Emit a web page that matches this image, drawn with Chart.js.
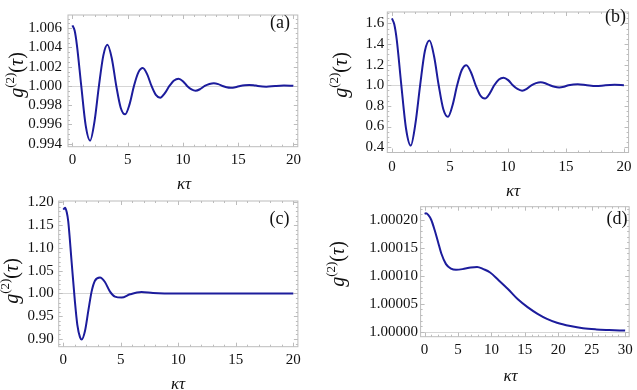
<!DOCTYPE html>
<html>
<head>
<meta charset="utf-8">
<script src="https://cdn.jsdelivr.net/npm/chart.js@4.4.1/dist/chart.umd.min.js"></script>
<style>
  html, body { margin: 0; padding: 0; background: #fff; overflow: hidden; }
  #wrap { position: relative; width: 637px; height: 390px; }
  #wrap canvas { position: absolute; left: 0; top: 0; }
</style>
</head>
<body>
<div id="wrap">
  <canvas id="chartA" width="637" height="390"></canvas>
  <canvas id="chartB" width="637" height="390"></canvas>
  <canvas id="chartC" width="637" height="390"></canvas>
  <canvas id="chartD" width="637" height="390"></canvas>
</div>
<script>
// values: kappa*tau and g2(tau) for each panel
const tauA = [0, 0.2, 0.4, 0.8, 1.2, 1.6, 2.0, 2.4, 2.8, 3.17, 3.57, 3.97, 4.37, 4.77, 5.17, 5.57, 5.97, 6.37, 6.77, 7.16, 7.55, 7.95, 8.35, 8.78, 9.2, 9.6, 10.0, 10.38, 10.78, 11.15, 11.55, 11.98, 12.4, 12.8, 13.2, 13.58, 13.95, 14.35, 14.75, 15.18, 15.6, 16.0, 16.4, 16.78, 17.55, 18.35, 19.15, 20];
const g2A  = [1.0063, 1.00575, 1.0043, 1.0000, 0.9959, 0.99432, 0.99632, 1.0000, 1.00318, 1.00428, 1.00283, 1.0000, 0.99774, 0.99705, 0.99809, 1.0000, 1.00141, 1.00186, 1.0012, 1.0000, 0.99908, 0.99878, 0.99922, 1.0000, 1.00057, 1.00075, 1.0005, 1.0000, 0.99964, 0.9995, 0.99966, 1.0000, 1.0002, 1.00028, 1.00019, 1.0000, 0.99986, 0.99981, 0.99987, 1.0000, 1.00008, 1.00011, 1.00008, 1.0000, 0.99993, 1.0000, 1.00004, 1.00001];

const tauB = [0, 0.2, 0.41, 0.81, 1.22, 1.62, 2.02, 2.43, 2.84, 3.24, 3.64, 4.03, 4.43, 4.83, 5.23, 5.62, 6.02, 6.42, 6.82, 7.22, 7.62, 8.02, 8.42, 8.82, 9.22, 9.62, 10.02, 10.42, 10.82, 11.22, 11.62, 12.02, 12.42, 12.82, 13.22, 13.62, 14.02, 14.42, 14.82, 15.22, 16.02, 16.81, 17.6, 18.4, 19.2, 20];
const g2B  = [1.648, 1.591, 1.445, 1.0, 0.576, 0.415, 0.625, 1.0, 1.332, 1.434, 1.276, 1.0, 0.767, 0.694, 0.809, 1.0, 1.148, 1.195, 1.124, 1.0, 0.901, 0.871, 0.919, 1.0, 1.057, 1.074, 1.05, 1.0, 0.964, 0.948, 0.965, 1.0, 1.021, 1.029, 1.02, 1.0, 0.985, 0.979, 0.986, 1.0, 1.011, 1.0, 0.992, 1.0, 1.004, 1.001];

const tauC = [0, 0.15, 0.3, 0.43, 0.72, 1.01, 1.22, 1.45, 1.6, 1.88, 2.17, 2.46, 2.75, 3.19, 3.62, 4.06, 4.49, 5.07, 5.8, 6.8, 7.8, 8.8, 10, 20];
const g2C  = [1.184, 1.188, 1.178, 1.158, 1.070, 0.982, 0.931, 0.904, 0.899, 0.917, 0.961, 1.004, 1.028, 1.035, 1.025, 1.004, 0.993, 0.991, 0.998, 1.003, 1.0007, 1.0, 1.0, 1.0];

const tauD = [0, 0.2, 0.54, 1.0, 1.5, 2.0, 2.5, 3.2, 3.95, 4.7, 5.66, 6.9, 7.85, 8.8, 9.8, 11.0, 12.5, 13.95, 15.4, 16.9, 18.3, 19.8, 21.8, 23.7, 25.7, 27.6, 30];
const g2D  = [1.000211, 1.000212, 1.000209, 1.000200, 1.000182, 1.000161, 1.000140, 1.000121, 1.000113, 1.000111, 1.000112, 1.000115, 1.000116, 1.000112, 1.000106, 1.000093, 1.000076, 1.000058, 1.000044, 1.000032, 1.000023, 1.000016, 1.000010, 1.000006, 1.000004, 1.000003, 1.000002];

// tick labels
const xTicks20 = [0, 5, 10, 15, 20];
const xTicks30 = [0, 5, 10, 15, 20, 25, 30];
const yTicksA = [0.994, 0.996, 0.998, 1.000, 1.002, 1.004, 1.006];
const yTicksB = [0.4, 0.6, 0.8, 1.0, 1.2, 1.4, 1.6];
const yTicksC = [0.90, 0.95, 1.00, 1.05, 1.10, 1.15, 1.20];
const yTicksD = [1.00000, 1.00005, 1.00010, 1.00015, 1.00020];
const panelTags = ['(a)', '(b)', '(c)', '(d)'];

const SERIF = '"Liberation Serif", "Times New Roman", serif';
const LINE_COLOR = '#1c1c9c';
const FRAME_COLOR = '#bcbcbc';

// draws g^(2)(tau) rotated, with a raised (2)
function drawYTitle(ctx, cx, cy) {
    const parts = [
        { t: 'g', font: 'italic 20px ' + SERIF, dy: 0 },
        { t: '(2)', font: '13px ' + SERIF, dy: -9 },
        { t: '(', font: '20px ' + SERIF, dy: 0 },
        { t: 'τ', font: 'italic 20px ' + SERIF, dy: 0 },
        { t: ')', font: '20px ' + SERIF, dy: 0 }
    ];
    let total = 0;
    parts.forEach(p => { ctx.font = p.font; p.w = ctx.measureText(p.t).width; total += p.w; });
    ctx.save();
    ctx.translate(cx, cy);
    ctx.rotate(-Math.PI / 2);
    ctx.fillStyle = '#111';
    ctx.textBaseline = 'alphabetic';
    ctx.textAlign = 'left';
    let x = -total / 2;
    parts.forEach(p => {
        ctx.font = p.font;
        ctx.fillText(p.t, x, 5 + p.dy);
        x += p.w;
    });
    ctx.restore();
}

// Mathematica-style frame: inward ticks, axis line at 1, labels
const framePlugin = {
    id: 'mmaFrame',
    beforeDatasetsDraw(chart, args, opts) {
        const { ctx, chartArea: a, scales: { y } } = chart;
        const py = Math.round(y.getPixelForValue(1)) + 0.5;
        ctx.save();
        ctx.strokeStyle = '#d6d6d6';
        ctx.lineWidth = 1;
        ctx.beginPath();
        ctx.moveTo(a.left, py);
        ctx.lineTo(a.right, py);
        ctx.stroke();
        ctx.restore();
    },
    afterDraw(chart, args, opts) {
        const { ctx, chartArea: a, scales: { x, y } } = chart;
        ctx.save();
        ctx.strokeStyle = FRAME_COLOR;
        ctx.lineWidth = 1;
        ctx.strokeRect(a.left, a.top, a.right - a.left, a.bottom - a.top);

        ctx.beginPath();
        // x ticks, bottom and top
        const xFirst = Math.ceil(x.min / opts.xMinor) * opts.xMinor;
        for (let v = xFirst; v <= x.max + 1e-9; v += opts.xMinor) {
            const major = Math.abs(v / opts.xMajor - Math.round(v / opts.xMajor)) < 1e-6;
            const len = major ? 4 : 2;
            const px = Math.round(x.getPixelForValue(v)) + 0.5;
            ctx.moveTo(px, a.bottom); ctx.lineTo(px, a.bottom - len);
            ctx.moveTo(px, a.top); ctx.lineTo(px, a.top + len);
        }
        // y ticks, left and right
        const yFirst = Math.ceil((y.min - opts.yBase) / opts.yMinor);
        const yLast = Math.floor((y.max - opts.yBase) / opts.yMinor);
        for (let k = yFirst; k <= yLast; k++) {
            const major = ((k % opts.yEvery) + opts.yEvery) % opts.yEvery === 0;
            const len = major ? 4 : 2;
            const py = Math.round(y.getPixelForValue(opts.yBase + k * opts.yMinor)) + 0.5;
            ctx.moveTo(a.left, py); ctx.lineTo(a.left + len, py);
            ctx.moveTo(a.right, py); ctx.lineTo(a.right - len, py);
        }
        ctx.stroke();

        // panel tag
        ctx.fillStyle = '#111';
        ctx.font = '18px ' + SERIF;
        ctx.textAlign = 'center';
        ctx.textBaseline = 'middle';
        ctx.fillText(opts.tag, opts.tagPos[0], opts.tagPos[1]);

        // x title
        ctx.font = 'italic 17px ' + SERIF;
        ctx.fillText('κτ', opts.xTitle[0], opts.xTitle[1]);
        ctx.restore();

        drawYTitle(ctx, opts.yTitle[0], opts.yTitle[1]);
    }
};

function makePanel(cfg) {
    const W = 637, H = 390;
    const area = cfg.area;
    // wide enough that Chart.js does not clip the long tick labels
    const yAxisW = Math.min(62, area.l), xAxisH = 40;
    return new Chart(document.getElementById(cfg.id), {
        type: 'line',
        data: {
            datasets: [{
                data: cfg.tau.map((t, i) => ({ x: t, y: cfg.g2[i] })),
                borderColor: LINE_COLOR,
                borderWidth: 2,
                pointRadius: 0,
                fill: false,
                cubicInterpolationMode: 'monotone'
            }]
        },
        options: {
            responsive: false,
            animation: false,
            events: [],
            layout: {
                padding: {
                    left: area.l - yAxisW,
                    right: W - area.r,
                    top: area.t,
                    bottom: H - area.b - xAxisH
                }
            },
            plugins: {
                legend: { display: false },
                tooltip: { enabled: false },
                mmaFrame: {
                    tag: cfg.tag, tagPos: cfg.tagPos,
                    xTitle: cfg.xTitle, yTitle: cfg.yTitle,
                    xMajor: 5, xMinor: 1,
                    yBase: cfg.yTicks[0], yMinor: cfg.yMinor, yEvery: cfg.yEvery
                }
            },
            scales: {
                x: {
                    type: 'linear',
                    min: cfg.xMin,
                    max: cfg.xMax,
                    grid: { display: false, drawTicks: false },
                    border: { display: false },
                    afterFit: s => { s.height = xAxisH; },
                    afterBuildTicks: s => { s.ticks = cfg.xTicks.map(v => ({ value: v })); },
                    ticks: {
                        autoSkip: false,
                        maxRotation: 0,
                        padding: cfg.xGap,
                        color: '#111',
                        font: { family: SERIF, size: 15 },
                        callback: v => String(v)
                    }
                },
                y: {
                    type: 'linear',
                    min: cfg.yMin,
                    max: cfg.yMax,
                    grid: { display: false, drawTicks: false },
                    border: { display: false },
                    afterFit: s => { s.width = yAxisW; },
                    afterBuildTicks: s => { s.ticks = cfg.yTicks.map(v => ({ value: v })); },
                    ticks: {
                        autoSkip: false,
                        padding: cfg.yGap,
                        color: '#111',
                        font: { family: SERIF, size: 15 },
                        callback: v => v.toFixed(cfg.dec)
                    }
                }
            }
        },
        plugins: [framePlugin]
    });
}

const panels = [
    { id: 'chartA', tau: tauA, g2: g2A, xTicks: xTicks20, yTicks: yTicksA, dec: 3, yMinor: 0.0005, yEvery: 4,
      xMin: -0.4, xMax: 20.4, yMin: 0.99369, yMax: 1.00737,
      area: { l: 68, r: 297.8, t: 1.5, b: 146.7 }, xGap: 4.3, yGap: 6,
      tag: panelTags[0], tagPos: [280, 23], xTitle: [184, 185], yTitle: [17.5, 75] },
    { id: 'chartB', tau: tauB, g2: g2B, xTicks: xTicks20, yTicks: yTicksB, dec: 1, yMinor: 0.05, yEvery: 4,
      xMin: -0.4, xMax: 20.4, yMin: 0.348, yMax: 1.7107,
      area: { l: 387.3, r: 633.7, t: 1, b: 152.5 }, xGap: 5.5, yGap: 3,
      tag: panelTags[1], tagPos: [615.5, 17.5], xTitle: [513, 192], yTitle: [342, 75] },
    { id: 'chartC', tau: tauC, g2: g2C, xTicks: xTicks20, yTicks: yTicksC, dec: 2, yMinor: 0.01, yEvery: 5,
      xMin: -0.4, xMax: 20.4, yMin: 0.8831, yMax: 1.2028,
      area: { l: 58.7, r: 297.9, t: 201, b: 346.7 }, xGap: 4.3, yGap: 5,
      tag: panelTags[2], tagPos: [279.5, 219], xTitle: [178, 385], yTitle: [13, 281] },
    { id: 'chartD', tau: tauD, g2: g2D, xTicks: xTicks30, yTicks: yTicksD, dec: 5, yMinor: 0.00001, yEvery: 5,
      xMin: -0.6, xMax: 30.6, yMin: 0.999991, yMax: 1.0002238,
      area: { l: 420.6, r: 633.8, t: 206.7, b: 336.7 }, xGap: 4.3, yGap: 2.5,
      tag: panelTags[3], tagPos: [617, 219.5], xTitle: [510.5, 377], yTitle: [339, 264] }
];

panels.forEach(makePanel);
</script>
</body>
</html>
